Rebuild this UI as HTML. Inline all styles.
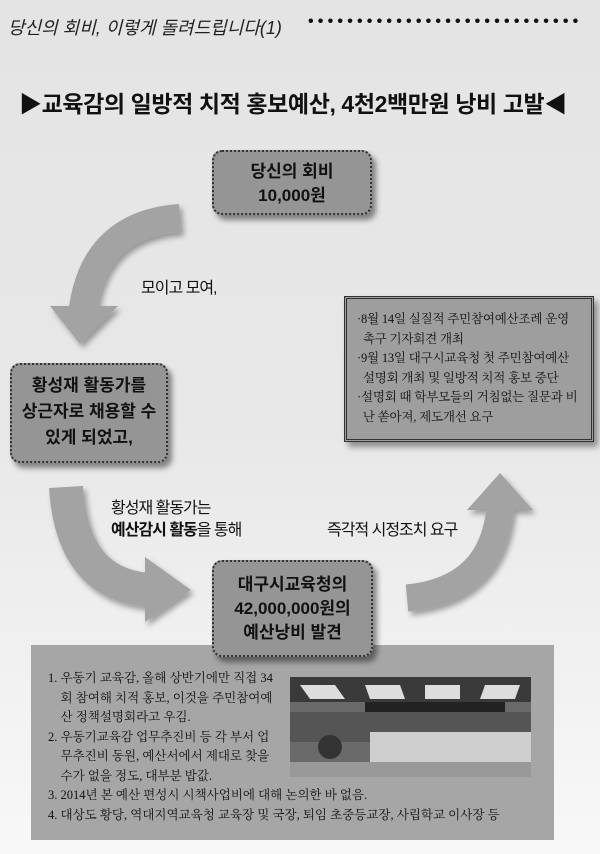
<!DOCTYPE html>
<html><head><meta charset="utf-8"><style>
*{margin:0;padding:0;box-sizing:border-box}
body{width:600px;height:854px;overflow:hidden;position:relative;background:linear-gradient(#e4e4e4 0%,#e8e8e8 50%,#f8f8f8 100%);font-family:"Liberation Sans","Noto Sans CJK KR",sans-serif;color:#111}
.a{position:absolute;white-space:nowrap}
.box{position:absolute;background:#959595;border-radius:10px;border:2px dotted #333;box-shadow:4px 5px 6px rgba(0,0,0,.45);text-align:center;font-weight:bold;color:#111}
.ser{font-family:"Liberation Serif","Noto Serif CJK SC",serif}
</style></head><body>
<svg class="a" style="left:0;top:0" width="600" height="854">
<defs><filter id="sh" x="-20%" y="-20%" width="140%" height="140%"><feDropShadow dx="3" dy="4" stdDeviation="3" flood-color="#000" flood-opacity=".35"/></filter></defs>
<g filter="url(#sh)" fill="#a3a3a3" stroke="#a3a3a3">
<path d="M180,218 Q95,224 83,308" fill="none" stroke-width="28"/>
<polygon points="50,306 118,306 80,344" stroke="none"/>
<path d="M66,487 Q72,585 150,590" fill="none" stroke-width="34"/>
<polygon points="145,557 145,622 191,590" stroke="none"/>
<path d="M407,598 Q492,590 500,508" fill="none" stroke-width="27"/>
<polygon points="467,510 533,510 500,473" stroke="none"/>
</g>
</svg>
<div class="a" style="left:8px;top:14px;font-size:18px;font-style:italic;color:#222">당신의 회비, 이렇게 돌려드립니다(1)</div>
<div class="a" style="left:308px;top:13px;font-size:16px;letter-spacing:4.2px;font-weight:bold">••••••••••••••••••••••••••••</div>
<div class="a" style="left:19px;top:85px;font-size:23px;font-weight:bold;letter-spacing:-0.4px">▶교육감의 일방적 치적 홍보예산, 4천2백만원 낭비 고발◀</div>
<div class="box" style="left:212px;top:150px;width:160px;height:65px;font-size:17px;line-height:24px;padding-top:8px">당신의 회비<br>10,000원</div>
<div class="a" style="left:141px;top:274px;font-size:16px;letter-spacing:-1px">모이고 모여,</div>
<div class="a ser" style="left:344px;top:296px;width:250px;height:146px;background:#9e9e9e;border:3px double #333;box-shadow:4px 5px 6px rgba(0,0,0,.4);font-size:12.5px;letter-spacing:-0.2px;line-height:19.5px;padding:11px 0 0 10px;white-space:nowrap;overflow:hidden">
·8월 14일 실질적 주민참여예산조례 운영<br>&nbsp;&nbsp;촉구 기자회견 개최<br>·9월 13일 대구시교육청 첫 주민참여예산<br>&nbsp;&nbsp;설명회 개최 및 일방적 치적 홍보 중단<br>·설명회 때 학부모들의 거침없는 질문과 비<br>&nbsp;&nbsp;난 쏟아져, 제도개선 요구</div>
<div class="box" style="left:10px;top:363px;width:158px;height:100px;font-size:17px;line-height:26px;padding-top:8px">황성재 활동가를<br>상근자로 채용할 수<br>있게 되었고,</div>
<div class="a" style="left:111px;top:494px;font-size:16px;letter-spacing:-1px">황성재 활동가는</div>
<div class="a" style="left:111px;top:516px;font-size:16px;letter-spacing:-1px"><b>예산감시 활동</b>을 통해</div>
<div class="a" style="left:327px;top:516px;font-size:16px;letter-spacing:-1px">즉각적 시정조치 요구</div>
<div class="a ser" style="left:31px;top:645px;width:523px;height:195px;background:#a6a6a6;font-size:12.5px;line-height:19.5px;padding:24px 0 0 17px;white-space:normal">
1. 우동기 교육감, 올해 상반기에만 직접 34<br>&nbsp;&nbsp;&nbsp;&nbsp;회 참여해 치적 홍보, 이것을 주민참여예<br>&nbsp;&nbsp;&nbsp;&nbsp;산 정책설명회라고 우김.<br>2. 우동기교육감 업무추진비 등 각 부서 업<br>&nbsp;&nbsp;&nbsp;&nbsp;무추진비 동원, 예산서에서 제대로 찾을<br>&nbsp;&nbsp;&nbsp;&nbsp;수가 없을 정도, 대부분 밥값.<br>3. 2014년 본 예산 편성시 시책사업비에 대해 논의한 바 없음.<br>4. 대상도 황당, 역대지역교육청 교육장 및 국장, 퇴임 초중등교장, 사립학교 이사장 등</div>
<svg class="a" style="left:290px;top:677px" width="241" height="100">
<rect width="241" height="100" fill="#6a6a6a"/>
<rect y="0" width="241" height="25" fill="#3a3a3a"/>
<polygon points="10,8 45,8 55,22 20,22" fill="#ddd"/><polygon points="75,8 110,8 115,22 80,22" fill="#ddd"/><polygon points="135,8 170,8 170,22 135,22" fill="#ddd"/><polygon points="195,8 230,8 225,22 190,22" fill="#ddd"/>
<rect x="75" y="25" width="140" height="10" fill="#222"/>
<rect x="0" y="35" width="241" height="30" fill="#555"/>
<rect x="80" y="55" width="161" height="32" fill="#cfcfcf"/>
<rect x="0" y="85" width="241" height="15" fill="#999"/>
<circle cx="40" cy="70" r="12" fill="#333"/>
</svg>
<div class="box" style="left:212px;top:560px;width:161px;height:97px;font-size:17px;line-height:24px;padding-top:11px">대구시교육청의<br>42,000,000원의<br>예산낭비 발견</div>
</body></html>
